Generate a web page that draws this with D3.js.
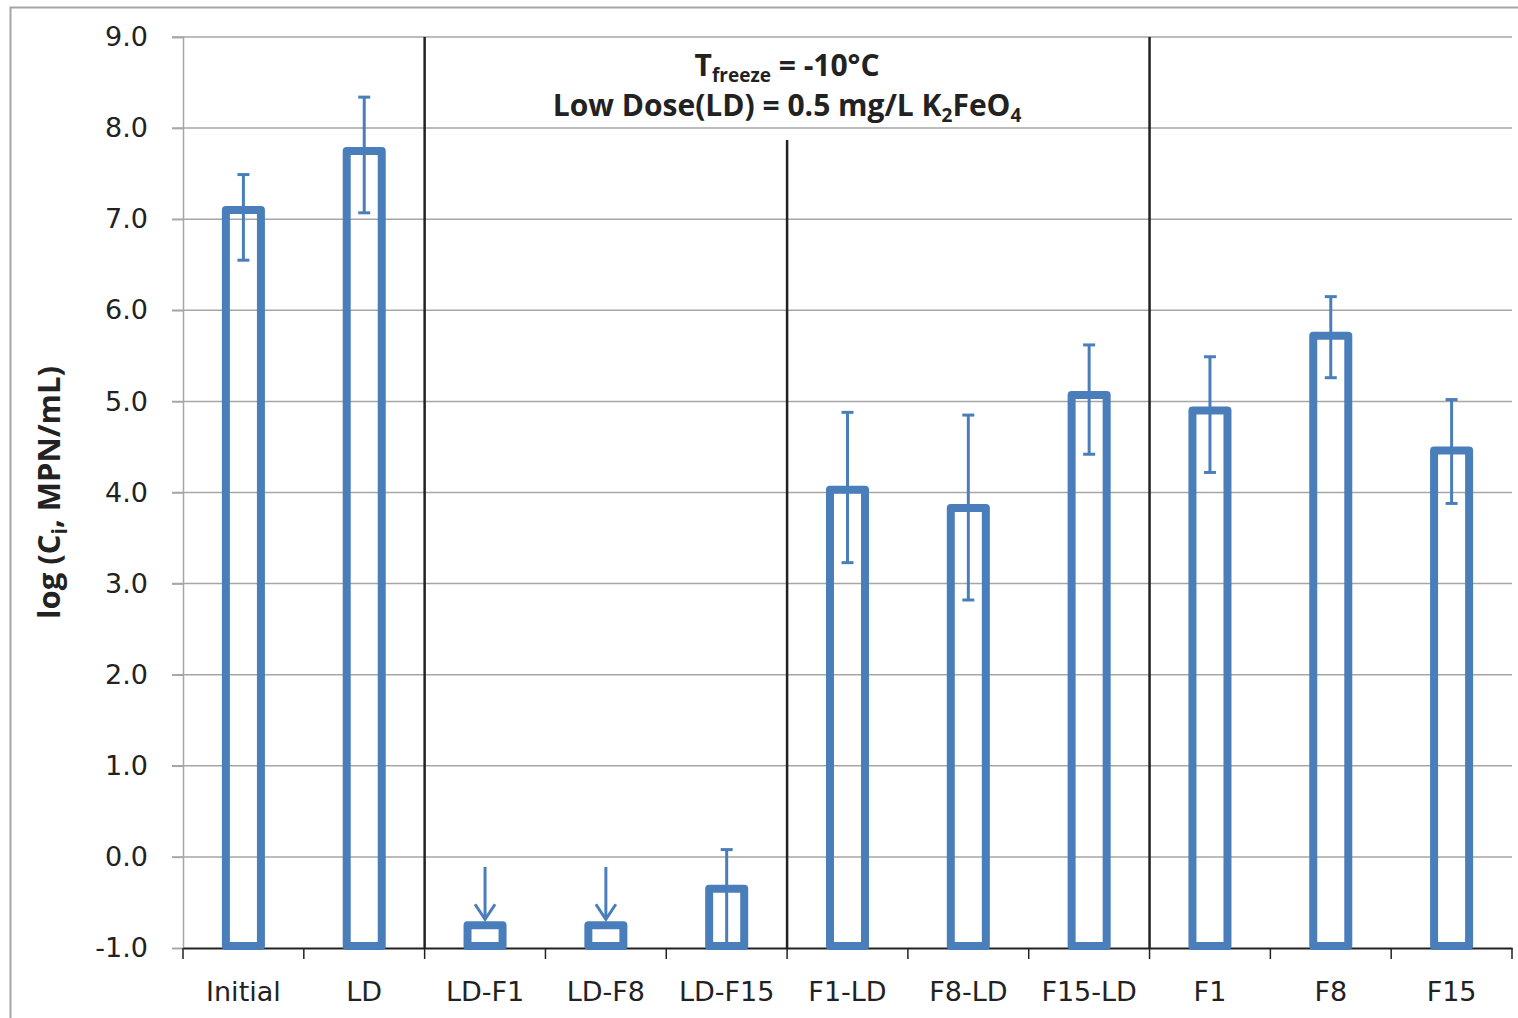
<!DOCTYPE html>
<html>
<script src="https://d3js.org/d3.v7.min.js"></script>
<body style="margin:0;background:#fff;">
<svg id="chart" width="1518" height="1018"></svg>

<script>
    // values
    const categories = ["Initial", "LD", "LD-F1", "LD-F8", "LD-F15", "F1-LD", "F8-LD", "F15-LD", "F1", "F8", "F15"];
    const means = [7.1, 7.75, -0.75, -0.75, -0.35, 4.03, 3.83, 5.07, 4.9, 5.72, 4.46];
    const errUpper = [7.49, 8.34, null, null, 0.08, 4.88, 4.85, 5.62, 5.49, 6.15, 5.02];
    const errLower = [6.55, 7.07, null, null, -1.2, 3.23, 2.82, 4.42, 4.22, 5.26, 3.88];
    // detection limit bars drawn with a downward arrow
    const arrowTops = [null, null, -0.11, -0.11, null, null, null, null, null, null, null];
    const yTicks = [-1, 0, 1, 2, 3, 4, 5, 6, 7, 8, 9];
    // group dividers: after these categories
    const dividers = [
        {after: "LD", from: 9},
        {after: "LD-F15", from: 7.87},
        {after: "F15-LD", from: 9}
    ];

    const svg = d3.select("#chart");
    const blue = "#4a7ebb";

    const margin = {left: 183, right: 6, top: 37, bottom: 70};
    const W = 1518, H = 1018;

    const x = d3.scaleBand().domain(categories).range([margin.left, W - margin.right]).padding(0);
    const y = d3.scaleLinear().domain([-1, 9]).range([H - margin.bottom, margin.top]);

    // outer chart frame
    svg.append("rect")
        .attr("x", 10.5).attr("y", 7.5)
        .attr("width", 1530).attr("height", 1040)
        .attr("fill", "none").attr("stroke", "#a6a6a6").attr("stroke-width", 2);

    // horizontal gridlines
    svg.append("g").selectAll("line").data(yTicks.slice(1)).join("line")
        .attr("x1", margin.left - 11).attr("x2", W - margin.right)
        .attr("y1", d => y(d)).attr("y2", d => y(d))
        .attr("stroke", "#a6a6a6").attr("stroke-width", 1.5);

    // y axis
    const yAxis = svg.append("g")
        .attr("transform", `translate(${margin.left},0)`)
        .call(d3.axisLeft(y).tickValues(yTicks).tickFormat(d => d.toFixed(1)).tickSize(11).tickPadding(24));
    yAxis.select(".domain").attr("stroke", "#a6a6a6").attr("stroke-width", 1.5);
    yAxis.selectAll(".tick line").attr("stroke", "#a6a6a6").attr("stroke-width", 1.5);
    yAxis.selectAll(".tick text")
        .attr("font-family", "DejaVu Sans, Verdana, sans-serif")
        .attr("font-size", 27).attr("fill", "#222");

    // x axis
    const xAxis = svg.append("g")
        .attr("transform", `translate(0,${y(-1)})`)
        .call(d3.axisBottom(x).tickSize(0).tickPadding(34));
    xAxis.select(".domain").attr("stroke", "#222").attr("stroke-width", 2);
    xAxis.selectAll(".tick text")
        .attr("font-family", "DejaVu Sans, Verdana, sans-serif")
        .attr("font-size", 27).attr("fill", "#222");

    // category boundary ticks
    const bounds = categories.map(c => x(c)).concat([x(categories[categories.length - 1]) + x.bandwidth()]);
    svg.append("g").selectAll("line").data(bounds).join("line")
        .attr("x1", d => d).attr("x2", d => d)
        .attr("y1", y(-1)).attr("y2", y(-1) + 11)
        .attr("stroke", "#222").attr("stroke-width", 1.5);

    // group divider lines
    svg.append("g").selectAll("line").data(dividers).join("line")
        .attr("x1", d => x(d.after) + x.bandwidth()).attr("x2", d => x(d.after) + x.bandwidth())
        .attr("y1", d => y(d.from)).attr("y2", y(-1))
        .attr("stroke", "#222").attr("stroke-width", 2.5);

    // bars (hollow)
    const barW = x.bandwidth() * 0.29;
    const rows = categories.map((c, i) => ({c, v: means[i], hi: errUpper[i], lo: errLower[i], arrow: arrowTops[i]}));

    svg.append("g").selectAll("rect").data(rows).join("rect")
        .attr("x", d => x(d.c) + x.bandwidth() / 2 - barW / 2)
        .attr("width", barW)
        .attr("y", d => y(d.v))
        .attr("height", d => y(-1) - y(d.v) - 2)
        .attr("fill", "none").attr("stroke", blue)
        .attr("stroke-width", 8).attr("stroke-linejoin", "round");

    // error bars, clipped at the x axis
    const errRows = rows.filter(d => d.hi !== null);
    const eg = svg.append("g").attr("stroke", blue).attr("stroke-width", 3);
    eg.selectAll("line.stem").data(errRows).join("line").attr("class", "stem")
        .attr("x1", d => x(d.c) + x.bandwidth() / 2).attr("x2", d => x(d.c) + x.bandwidth() / 2)
        .attr("y1", d => y(d.hi)).attr("y2", d => Math.min(y(d.lo), y(-1) - 3));
    eg.selectAll("line.capHi").data(errRows).join("line").attr("class", "capHi")
        .attr("x1", d => x(d.c) + x.bandwidth() / 2 - 6).attr("x2", d => x(d.c) + x.bandwidth() / 2 + 6)
        .attr("y1", d => y(d.hi)).attr("y2", d => y(d.hi));
    eg.selectAll("line.capLo").data(errRows.filter(d => d.lo > -1)).join("line").attr("class", "capLo")
        .attr("x1", d => x(d.c) + x.bandwidth() / 2 - 6).attr("x2", d => x(d.c) + x.bandwidth() / 2 + 6)
        .attr("y1", d => y(d.lo)).attr("y2", d => y(d.lo));

    // below-detection arrows
    const arrowRows = rows.filter(d => d.arrow !== null);
    const ag = svg.append("g").attr("stroke", blue).attr("stroke-width", 3).attr("fill", "none");
    ag.selectAll("line").data(arrowRows).join("line")
        .attr("x1", d => x(d.c) + x.bandwidth() / 2).attr("x2", d => x(d.c) + x.bandwidth() / 2)
        .attr("y1", d => y(d.arrow)).attr("y2", d => y(d.v) - 6);
    ag.selectAll("path").data(arrowRows).join("path")
        .attr("d", d => {
            const cx = x(d.c) + x.bandwidth() / 2, ty = y(d.v) - 6;
            return `M${cx - 10},${ty - 15} L${cx},${ty} L${cx + 10},${ty - 15}`;
        });

    // annotation
    const noteX = x("LD-F15") + x.bandwidth();
    const note = svg.append("g")
        .attr("font-family", "Open Sans, sans-serif")
        .attr("font-weight", "bold").attr("font-size", 30).attr("fill", "#222")
        .attr("text-anchor", "middle");
    const t1 = note.append("text").attr("x", noteX).attr("y", 76);
    t1.append("tspan").text("T");
    t1.append("tspan").attr("font-size", 19).attr("dy", 6).text("freeze");
    t1.append("tspan").attr("dy", -6).text(" = -10°C");
    const t2 = note.append("text").attr("x", noteX).attr("y", 116);
    t2.append("tspan").text("Low Dose(LD) = 0.5 mg/L K");
    t2.append("tspan").attr("font-size", 19).attr("dy", 6).text("2");
    t2.append("tspan").attr("dy", -6).text("FeO");
    t2.append("tspan").attr("font-size", 19).attr("dy", 6).text("4");

    // y axis title
    const yt = svg.append("text")
        .attr("transform", `translate(60,${(y(-1) + y(9)) / 2}) rotate(-90)`)
        .attr("text-anchor", "middle")
        .attr("font-family", "Open Sans, sans-serif")
        .attr("font-weight", "bold").attr("font-size", 31).attr("fill", "#222");
    yt.append("tspan").text("log (C");
    yt.append("tspan").attr("font-size", 21).attr("dy", 7).text("i");
    yt.append("tspan").attr("dy", -7).text(", MPN/mL)");
</script>

</body>
</html>
